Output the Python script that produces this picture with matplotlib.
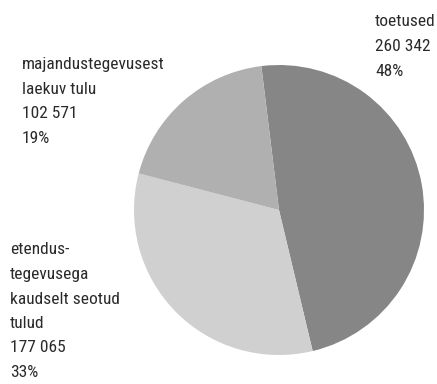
import matplotlib
matplotlib.use("Agg")
import matplotlib.pyplot as plt

plt.rcParams['font.family'] = ['Liberation Sans Narrow', 'Roboto Condensed', 'Open Sans Condensed',
                               'DejaVu Sans']

# Revenue structure
categories = ["toetused", "etendustegevusega kaudselt seotud tulud", "majandustegevusest laekuv tulu"]
label_lines = [["toetused"],
               ["etendus-", "tegevusega", "kaudselt seotud", "tulud"],
               ["majandustegevusest", "laekuv tulu"]]
values = [260342, 177065, 102571]
colors = ["#868686", "#d0d0d0", "#b0b0b0"]

W, H = 437, 384
fig = plt.figure(figsize=(W / 100, H / 100), dpi=100)
ax = fig.add_axes([0, 0, 1, 1])
ax.set_xlim(0, W)
ax.set_ylim(0, H)
ax.set_aspect('equal')
ax.axis('off')

ax.pie(values, colors=colors, center=(279, H - 210), radius=145,
       startangle=97, counterclock=False,
       wedgeprops=dict(linewidth=0))
ax.set_xlim(0, W)
ax.set_ylim(0, H)

total = sum(values)
# label anchor (left x, top line y in pixels from top), line spacing
anchors = [(375, 22), (10, 250), (22, 65)]
step = 24.5
for lines, v, (x, y0) in zip(label_lines, values, anchors):
    txt = lines + [f"{v:,}".replace(",", " "), f"{round(100 * v / total)}%"]
    for i, t in enumerate(txt):
        ax.text(x, H - (y0 + i * step), t, fontsize=12.5, color="#2a2a2a",
                fontstretch='condensed', ha="left", va="center")

fig.savefig("out.png", dpi=100)
